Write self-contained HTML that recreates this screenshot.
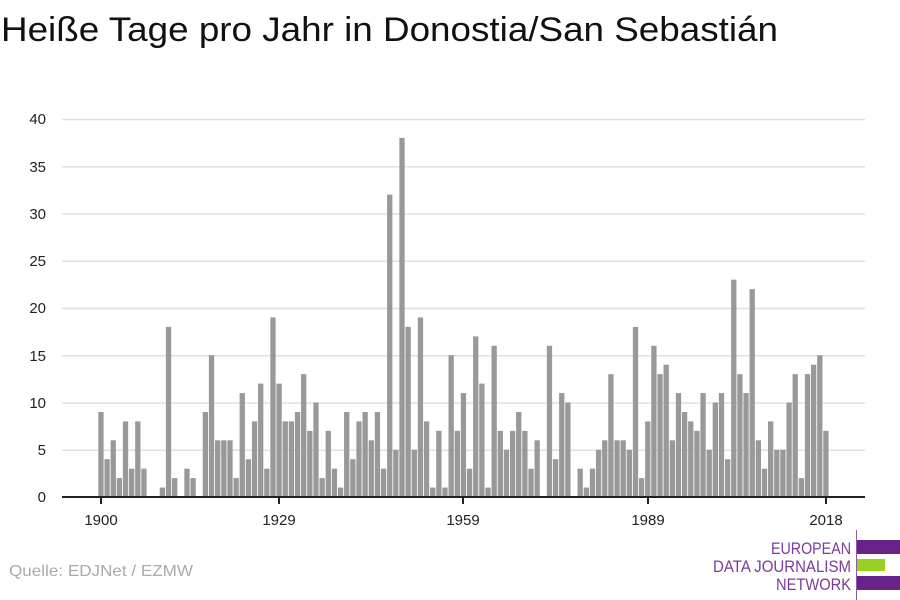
<!DOCTYPE html>
<html><head><meta charset="utf-8"><style>
body{margin:0;background:#fff;width:900px;height:600px;overflow:hidden;font-family:"Liberation Sans",sans-serif}
</style></head><body>
<svg id="s" width="900" height="600" xmlns="http://www.w3.org/2000/svg" style="position:absolute;left:0;top:0">
<text x="1" y="41" font-size="34" fill="#111" textLength="777" lengthAdjust="spacingAndGlyphs" font-family="Liberation Sans, sans-serif">Heiße Tage pro Jahr in Donostia/San Sebastián</text>
<g stroke="#e0e0e0" stroke-width="1.5">
<line x1="62" x2="865" y1="119.5" y2="119.5"/><line x1="62" x2="865" y1="166.8" y2="166.8"/>
<line x1="62" x2="865" y1="214" y2="214"/><line x1="62" x2="865" y1="261.3" y2="261.3"/>
<line x1="62" x2="865" y1="308.5" y2="308.5"/><line x1="62" x2="865" y1="355.8" y2="355.8"/>
<line x1="62" x2="865" y1="403" y2="403"/><line x1="62" x2="865" y1="450.3" y2="450.3"/>
</g>
<g font-size="15" fill="#222" text-anchor="end" font-family="Liberation Sans, sans-serif">
<text x="46" y="124">40</text><text x="46" y="172">35</text><text x="46" y="219">30</text>
<text x="46" y="266">25</text><text x="46" y="313">20</text><text x="46" y="361">15</text>
<text x="46" y="408">10</text><text x="46" y="455">5</text><text x="46" y="502">0</text>
</g>
<g id="bars" fill="#999"></g>
<line x1="62" x2="865" y1="497" y2="497" stroke="#222" stroke-width="2"/>
<g stroke="#222" stroke-width="2">
<line x1="101" x2="101" y1="497" y2="504"/><line x1="279" x2="279" y1="497" y2="504"/>
<line x1="463" x2="463" y1="497" y2="504"/><line x1="648" x2="648" y1="497" y2="504"/>
<line x1="826" x2="826" y1="497" y2="504"/>
</g>
<g font-size="15" fill="#222" text-anchor="middle" font-family="Liberation Sans, sans-serif">
<text x="101" y="525">1900</text><text x="279" y="525">1929</text><text x="463" y="525">1959</text>
<text x="648" y="525">1989</text><text x="826" y="525">2018</text>
</g>
<text x="9" y="576" font-size="16" fill="#aaa" textLength="184" lengthAdjust="spacingAndGlyphs" font-family="Liberation Sans, sans-serif">Quelle: EDJNet / EZMW</text>
<line x1="856.5" x2="856.5" y1="530" y2="600" stroke="#8a5aa8" stroke-width="1"/>
<rect x="857" y="540" width="43" height="14" fill="#662288"/>
<rect x="857" y="559" width="28" height="12" fill="#99d122"/>
<rect x="857" y="576" width="43" height="14" fill="#662288"/>
<g font-size="17" fill="#7a3c9a" text-anchor="end" font-family="Liberation Sans Narrow, Liberation Sans, sans-serif">
<text x="851" y="554" textLength="80" lengthAdjust="spacingAndGlyphs">EUROPEAN</text>
<text x="851" y="572" textLength="138" lengthAdjust="spacingAndGlyphs">DATA JOURNALISM</text>
<text x="851" y="590" textLength="75" lengthAdjust="spacingAndGlyphs">NETWORK</text>
</g>
</svg>
<script>
var v=[9,4,6,2,8,3,8,3,0,0,1,18,2,0,3,2,0,9,15,6,6,6,2,11,4,8,12,3,19,12,8,8,9,13,7,10,2,7,3,1,9,4,8,9,6,9,3,32,5,38,18,5,19,8,1,7,1,15,7,11,3,17,12,1,16,7,5,7,9,7,3,6,0,16,4,11,10,0,3,1,3,5,6,13,6,6,5,18,2,8,16,13,14,6,11,9,8,7,11,5,10,11,4,23,13,11,22,6,3,8,5,5,10,13,2,13,14,15,7];
var g=document.getElementById('bars'),h='';
for(var i=0;i<v.length;i++){if(!v[i])continue;var x=101+i*6.144-2.7,hh=v[i]*9.45;
h+='<rect x="'+x.toFixed(2)+'" y="'+(497-hh).toFixed(2)+'" width="5.3" height="'+hh.toFixed(2)+'"/>';}
g.innerHTML=h;
</script>
</body></html>
